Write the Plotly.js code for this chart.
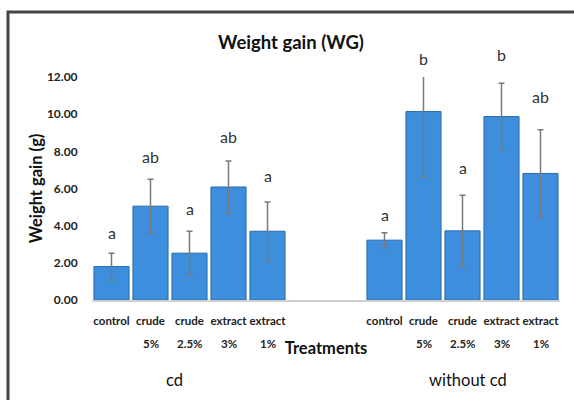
<!DOCTYPE html>
<html>
<head>
<meta charset="utf-8">
<script src="https://cdn.plot.ly/plotly-3.0.1.min.js"></script>
<style>html,body{margin:0;padding:0;background:#fff;overflow:hidden}</style>
</head>
<body>
<div id="chart" style="width:574px;height:400px"></div>
<script>
// ---- data ----
const treatments = ["control", "crude", "crude", "extract", "extract"];
const doses = ["", "5%", "2.5%", "3%", "1%"];
const groups = ["cd", "without cd"];
const cdMeans = [1.80, 5.05, 2.52, 6.08, 3.70];
const cdErr = [0.72, 1.45, 1.18, 1.40, 1.58];
const cdLetters = ["a", "ab", "a", "ab", "a"];
const cdLetterY = [3.65, 7.72, 4.94, 8.81, 6.72];
const woMeans = [3.22, 10.14, 3.72, 9.87, 6.81];
const woErr = [0.40, 3.50, 1.92, 1.80, 2.35];
const woLetters = ["a", "b", "a", "b", "ab"];
const woLetterY = [4.61, 12.98, 7.12, 13.20, 10.96];
const yTicks = [0, 2, 4, 6, 8, 10, 12];
const yMax = 12;

// slot positions: group 1 occupies slots 0-4, two empty slots, group 2 slots 7-11
const groupStart = [0, 7];
const xCd = treatments.map((_, i) => groupStart[0] + i);
const xWo = treatments.map((_, i) => groupStart[1] + i);

const fontFam = "Lato, 'Open Sans', sans-serif";
const barColor = '#3d8fde';
const barLine = '#2a6aa8';
const errStyle = {type: 'data', visible: true, color: '#7a7a7a', thickness: 1.5, width: 3};

const traces = [
  {type: 'bar', x: xCd, y: cdMeans, width: 0.9,
   marker: {color: barColor, line: {color: barLine, width: 1}},
   error_y: Object.assign({array: cdErr}, errStyle), hoverinfo: 'skip'},
  {type: 'bar', x: xWo, y: woMeans, width: 0.9,
   marker: {color: barColor, line: {color: barLine, width: 1}},
   error_y: Object.assign({array: woErr}, errStyle), hoverinfo: 'skip'}
];

const annotations = [];
// letters: y given in data units, mapped to the paper so that labels above the axis maximum stay visible
const addLetters = (xs, letters, ys) => xs.forEach((x, i) => annotations.push({
  x: x, y: ys[i] / yMax, xref: 'x', yref: 'paper', text: letters[i], showarrow: false,
  yanchor: 'middle', font: {family: fontFam, size: 16, color: '#333'}
}));
addLetters(xCd, cdLetters, cdLetterY);
addLetters(xWo, woLetters, woLetterY);

// second line of the category labels
[xCd, xWo].forEach(xs => xs.forEach((x, i) => {
  if (doses[i]) annotations.push({
    x: x, y: -0.193, xref: 'x', yref: 'paper', text: '<b>' + doses[i] + '</b>',
    showarrow: false, yanchor: 'middle', font: {family: fontFam, size: 11.5, color: '#222'}
  });
}));

// group labels
const groupLabelX = [1.62, 9.15];
groups.forEach((g, i) => annotations.push({
  x: groupLabelX[i], y: -0.36, xref: 'x', yref: 'paper', text: g, showarrow: false,
  yanchor: 'middle', font: {family: fontFam, size: 16.5, color: '#111'}
}));

const tickVals = xCd.concat(xWo);
const tickText = treatments.concat(treatments).map(t => '<b>' + t + '</b>');

const layout = {
  width: 574, height: 400,
  margin: {l: 92, r: 14, t: 77, b: 100},
  paper_bgcolor: '#fff', plot_bgcolor: '#fff',
  showlegend: false,
  title: {text: '<b>Weight gain (WG)</b>', x: 0.507, xanchor: 'center', y: 0.893, yanchor: 'middle',
          font: {family: fontFam, size: 18.5, color: '#111'}},
  xaxis: {
    range: [-0.5, 11.5], tickmode: 'array', tickvals: tickVals, ticktext: tickText,
    tickfont: {family: fontFam, size: 11.5, color: '#222'}, tickangle: 0,
    ticks: 'outside', ticklen: 10, tickcolor: 'rgba(0,0,0,0)',
    showgrid: false, zeroline: false, showline: true, linecolor: '#d0d0d0', linewidth: 1.5,
    title: {text: '<b>Treatments</b>', standoff: 16, font: {family: fontFam, size: 16.5, color: '#111'}}
  },
  yaxis: {
    range: [0, yMax], tickmode: 'array', tickvals: yTicks,
    ticktext: yTicks.map(v => '<b>' + v.toFixed(2) + '</b>'),
    tickfont: {family: fontFam, size: 12, color: '#222'},
    ticks: 'outside', ticklen: 11, tickcolor: 'rgba(0,0,0,0)',
    showgrid: false, zeroline: false, showline: false,
    title: {text: '<b>Weight gain (g)</b>', standoff: 0, font: {family: fontFam, size: 16.5, color: '#111'}}
  },
  annotations: annotations,
  shapes: [{type: 'rect', xref: 'paper', yref: 'paper', x0: -0.1795, x1: 1.5, y0: -1, y1: 1.2915,
            line: {color: '#444', width: 3}, fillcolor: 'rgba(0,0,0,0)', layer: 'above'}]
};

Plotly.newPlot('chart', traces, layout, {displayModeBar: false, staticPlot: true});
</script>
</body>
</html>
